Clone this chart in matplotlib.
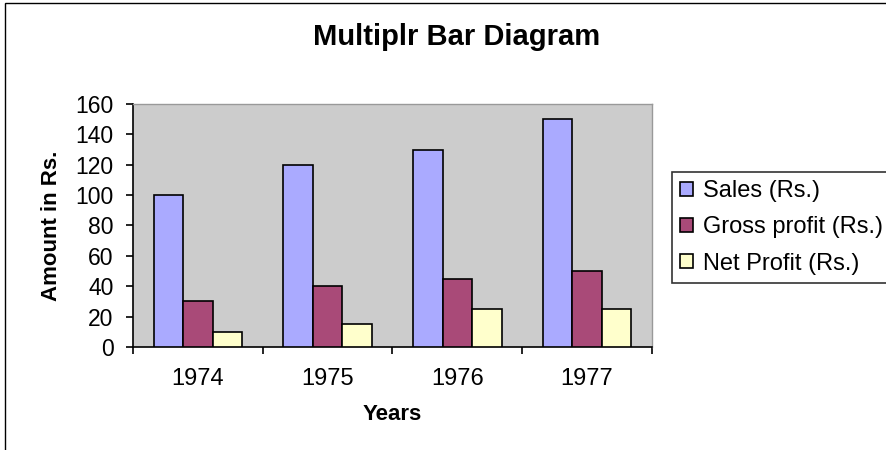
import matplotlib.pyplot as plt
import numpy as np
from matplotlib.patches import Rectangle

# Data
years = ["1974", "1975", "1976", "1977"]
sales = [100, 120, 130, 150]
gross_profit = [30, 40, 45, 50]
net_profit = [10, 15, 25, 25]

series_names = ["Sales (Rs.)", "Gross profit (Rs.)", "Net Profit (Rs.)"]
series_colors = ["#AAAAFF", "#A94A78", "#FFFFCC"]

plt.rcParams["font.family"] = ["Liberation Sans", "DejaVu Sans"]

fig = plt.figure(figsize=(8.86, 4.5), dpi=100)

# Outer chart border (runs off the right and bottom edges like the original)
fig.patches.append(Rectangle((5 / 886, -0.1), 1.2, 0.1 + (1 - 3 / 450),
                             transform=fig.transFigure, fill=False,
                             edgecolor="black", linewidth=1.0))

ax = fig.add_axes([133 / 886, 1 - 347 / 450, 519 / 886, 243 / 450])
ax.set_facecolor("#CCCCCC")

x = np.arange(len(years))
w = 0.228
for i, (vals, name, col) in enumerate(zip([sales, gross_profit, net_profit],
                                          series_names, series_colors)):
    ax.bar(x + (i - 1) * w, vals, width=w, color=col, edgecolor="black",
           linewidth=1.2, label=name, zorder=3)

ax.set_xlim(-0.5, len(years) - 0.5)
ax.set_ylim(0, 160)
ax.set_yticks(range(0, 161, 20))

# Ticks at category boundaries, labels at category centres
ax.set_xticks(np.arange(-0.5, len(years), 1.0))
ax.set_xticklabels([])
ax.set_xticks(x, minor=True)
ax.set_xticklabels(years, minor=True)
ax.tick_params(axis="x", which="major", length=5, width=1.2, direction="out")
ax.tick_params(axis="x", which="minor", length=0, pad=15, labelsize=17)
ax.tick_params(axis="y", length=5, width=1.2, direction="out", pad=9,
               labelsize=16.5)

for side in ["left", "bottom"]:
    ax.spines[side].set_color("black")
    ax.spines[side].set_linewidth(1.2)
for side in ["top", "right"]:
    ax.spines[side].set_color("#999999")
    ax.spines[side].set_linewidth(1.0)

ax.set_ylabel("Amount in Rs.", fontsize=16, fontweight="bold")
ax.yaxis.set_label_coords(-0.137, 0.5)
ax.set_xlabel("Years", fontsize=16, fontweight="bold")
ax.xaxis.set_label_coords(0.5, -0.235)

fig.text(457 / 886, 1 - 37 / 450, "Multiplr Bar Diagram", fontsize=21,
         fontweight="bold", ha="center", va="center")

leg = fig.legend(loc="upper left", bbox_to_anchor=(672 / 886, 1 - 172 / 450),
                 bbox_transform=fig.transFigure, borderaxespad=0,
                 fontsize=17, handlelength=0.55, handleheight=0.55,
                 handletextpad=0.4, labelspacing=0.6, borderpad=0.35,
                 fancybox=False, frameon=True)
leg.get_frame().set_edgecolor("black")
leg.get_frame().set_linewidth(1.2)

fig.savefig("out.png", dpi=100)
